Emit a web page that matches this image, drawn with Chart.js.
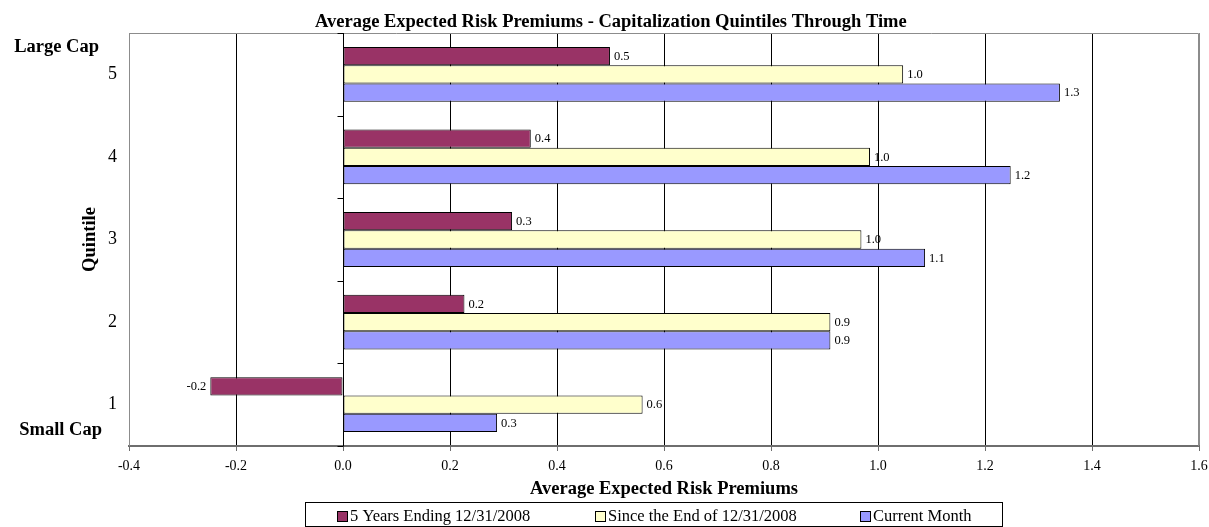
<!DOCTYPE html>
<html>
<head>
<meta charset="utf-8">
<script src="https://cdn.jsdelivr.net/npm/chart.js@4/dist/chart.umd.min.js"></script>
<style>
  html, body { margin: 0; padding: 0; background: #fff; overflow: hidden; }
  canvas { display: block; }
</style>
</head>
<body>
<canvas id="chart" width="1209" height="527"></canvas>
<script>
// Quintiles, top (large cap) to bottom (small cap)
const quintiles = ['5', '4', '3', '2', '1'];
const seriesNames = ['5 Years Ending 12/31/2008', 'Since the End of 12/31/2008', 'Current Month'];
const fiveYears = [0.499, 0.351, 0.316, 0.227, -0.248];
const sinceEnd = [1.047, 0.985, 0.969, 0.911, 0.560];
const currentMonth = [1.340, 1.248, 1.088, 0.911, 0.288];
const xTickValues = [-0.4, -0.2, 0.0, 0.2, 0.4, 0.6, 0.8, 1.0, 1.2, 1.4, 1.6];

const chartTitle = 'Average Expected Risk Premiums - Capitalization Quintiles Through Time';
const xAxisTitle = 'Average Expected Risk Premiums';
const yAxisTitle = 'Quintile';
const topLabel = 'Large Cap';
const bottomLabel = 'Small Cap';

const fillColors = ['#993366', '#FFFFCC', '#9999FF'];
const serif = "'Liberation Serif', 'Times New Roman', serif";

// Plot frame, zero axis with its category tick marks
const framePlugin = {
  id: 'frame',
  afterDatasetsDraw(chart) {
    const { ctx, chartArea: a, scales: { x, y } } = chart;
    ctx.save();
    ctx.lineWidth = 1;
    ctx.strokeStyle = '#8c8c8c';
    ctx.beginPath();
    ctx.moveTo(Math.round(a.left) + 0.5, Math.round(a.bottom));
    ctx.lineTo(Math.round(a.left) + 0.5, Math.round(a.top) + 0.5);
    ctx.lineTo(Math.round(a.right) - 0.5, Math.round(a.top) + 0.5);
    ctx.lineTo(Math.round(a.right) - 0.5, Math.round(a.bottom));
    ctx.stroke();

    const x0 = Math.round(x.getPixelForValue(0)) + 0.5;
    ctx.strokeStyle = '#000';
    ctx.beginPath();
    ctx.moveTo(x0, a.top);
    ctx.lineTo(x0, a.bottom);
    const n = quintiles.length;
    for (let i = 0; i <= n; i++) {
      let yy;
      if (i === 0) yy = a.top;
      else if (i === n) yy = a.bottom;
      else yy = (y.getPixelForValue(i - 1) + y.getPixelForValue(i)) / 2;
      yy = Math.round(yy) + 0.5;
      ctx.moveTo(x0 - 6, yy);
      ctx.lineTo(x0, yy);
    }
    ctx.stroke();
    ctx.restore();
  }
};

// Value labels at the end of each bar
const valueLabelPlugin = {
  id: 'valueLabels',
  afterDatasetsDraw(chart) {
    const { ctx } = chart;
    ctx.save();
    ctx.font = '12.5px ' + serif;
    ctx.fillStyle = '#000';
    ctx.textBaseline = 'middle';
    chart.data.datasets.forEach((ds, di) => {
      const meta = chart.getDatasetMeta(di);
      meta.data.forEach((bar, i) => {
        const v = ds.data[i];
        const txt = v.toFixed(1);
        if (v >= 0) {
          ctx.textAlign = 'left';
          ctx.fillText(txt, bar.x + 4, bar.y + 0.5);
        } else {
          ctx.textAlign = 'right';
          ctx.fillText(txt, bar.x - 4, bar.y + 0.5);
        }
      });
    });
    ctx.restore();
  }
};

// Titles, side captions and the boxed legend
const textPlugin = {
  id: 'texts',
  afterDraw(chart) {
    const { ctx, chartArea: a } = chart;
    ctx.save();
    ctx.fillStyle = '#000';
    ctx.textBaseline = 'middle';

    ctx.font = 'bold 18.5px ' + serif;
    ctx.textAlign = 'left';
    ctx.fillText(chartTitle, 315, 22);

    ctx.textAlign = 'center';
    ctx.fillText(xAxisTitle, (a.left + a.right) / 2, 489);

    ctx.textAlign = 'right';
    ctx.fillText(topLabel, 99, a.top + 14);
    ctx.fillText(bottomLabel, 102, a.bottom - 16);

    ctx.save();
    ctx.translate(90, (a.top + a.bottom) / 2);
    ctx.rotate(-Math.PI / 2);
    ctx.textAlign = 'center';
    ctx.fillText(yAxisTitle, 0, 0);
    ctx.restore();

    // legend
    ctx.strokeStyle = '#000';
    ctx.lineWidth = 1;
    ctx.strokeRect(305.5, 502.5, 697, 24);
    const itemX = [337, 595, 860];
    ctx.font = '16.5px ' + serif;
    ctx.textAlign = 'left';
    seriesNames.forEach((name, i) => {
      ctx.fillStyle = fillColors[i];
      ctx.fillRect(itemX[i] + 0.5, 511.5, 10, 10);
      ctx.strokeStyle = '#000';
      ctx.strokeRect(itemX[i] + 0.5, 511.5, 10, 10);
      ctx.fillStyle = '#000';
      ctx.fillText(name, itemX[i] + 13, 517);
    });
    ctx.restore();
  }
};

const seriesValues = [fiveYears, sinceEnd, currentMonth];

new Chart(document.getElementById('chart'), {
  type: 'bar',
  data: {
    labels: quintiles,
    datasets: seriesNames.map((name, i) => ({
      label: name,
      data: seriesValues[i],
      backgroundColor: fillColors[i],
      borderColor: '#000',
      borderWidth: 1,
      borderSkipped: false,
      categoryPercentage: 0.663,
      barPercentage: 1.0
    }))
  },
  options: {
    indexAxis: 'y',
    responsive: false,
    animation: false,
    devicePixelRatio: 1,
    layout: { padding: { top: 33, right: 10, left: 0, bottom: 0 } },
    plugins: {
      legend: { display: false },
      title: { display: false },
      tooltip: { enabled: false }
    },
    scales: {
      x: {
        type: 'linear',
        min: xTickValues[0],
        max: xTickValues[xTickValues.length - 1],
        afterBuildTicks(scale) {
          scale.ticks = xTickValues.map(v => ({ value: v }));
        },
        afterFit(scale) {
          scale.height = 81;
          scale.paddingLeft = 0;
          scale.paddingRight = 0;
        },
        ticks: {
          font: { family: serif, size: 14 },
          color: '#000',
          padding: 7,
          maxRotation: 0,
          callback: v => Number(v).toFixed(1)
        },
        grid: {
          color: ctx => (ctx.index === 0 || ctx.index === xTickValues.length - 1) ? '#8c8c8c' : '#000',
          lineWidth: 1,
          tickLength: 5,
          tickColor: '#6e6e6e',
          drawTicks: true
        },
        border: { display: true, color: '#6e6e6e', width: 2 }
      },
      y: {
        type: 'category',
        afterFit(scale) {
          scale.width = 129;
          scale.paddingTop = 0;
          scale.paddingBottom = 0;
        },
        ticks: {
          font: { family: serif, size: 18 },
          color: '#000',
          padding: 12
        },
        grid: { display: false, drawTicks: false },
        border: { display: false }
      }
    }
  },
  plugins: [framePlugin, valueLabelPlugin, textPlugin]
});
</script>
</body>
</html>
